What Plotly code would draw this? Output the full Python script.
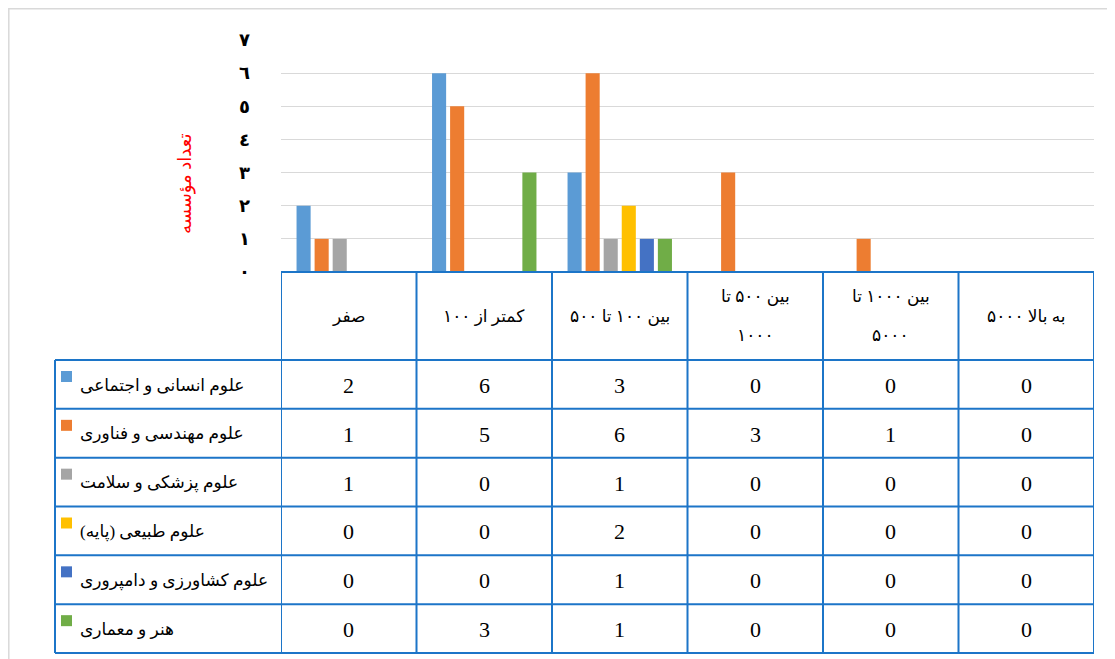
import plotly.graph_objects as go

# ---------------- data ----------------
categories = ["صفر", "کمتر از ۱۰۰", "بین ۱۰۰ تا ۵۰۰", "بین ۵۰۰ تا ۱۰۰۰", "بین ۱۰۰۰ تا ۵۰۰۰", "۵۰۰۰ به بالا"]
header_lines = [["صفر"], ["کمتر از ۱۰۰"], ["بین ۱۰۰ تا ۵۰۰"], ["بین ۵۰۰ تا", "۱۰۰۰"], ["بین ۱۰۰۰ تا", "۵۰۰۰"], ["۵۰۰۰ به بالا"]]

series_names = [
    "علوم انسانی و اجتماعی",
    "علوم مهندسی و فناوری",
    "علوم پزشکی و سلامت",
    "علوم طبیعی (پایه)",
    "علوم کشاورزی و دامپروری",
    "هنر و معماری",
]
humanities = [2, 6, 3, 0, 0, 0]
engineering = [1, 5, 6, 3, 1, 0]
medical = [1, 0, 1, 0, 0, 0]
natural = [0, 0, 2, 0, 0, 0]
agriculture = [0, 0, 1, 0, 0, 0]
art = [0, 3, 1, 0, 0, 0]
series_values = [humanities, engineering, medical, natural, agriculture, art]

y_tick_vals = [0, 1, 2, 3, 4, 5, 6, 7]
y_tick_text = ["٠", "١", "٢", "٣", "٤", "٥", "٦", "٧"]
y_title = "تعداد مؤسسه"

# ---------------- style ----------------
colors = ["#5B9BD5", "#ED7D31", "#A5A5A5", "#FFC000", "#4472C4", "#70AD47"]
BLUE = "#1C75C8"
RLM = "\u200f"
AR_FONT = "Times New Roman, Liberation Serif, DejaVu Sans"
NUM_FONT = "Times New Roman, Liberation Serif"

OFF = 8  # page body margin
PW, PH = 1115, 659
FW, FH = PW - OFF, PH - OFF
# plot area in page pixels
L, R, T, B = 281, 1094, 40, 272
W, H = R - L, B - T


def px(x):
    return (x - L) / W


def py(y):
    return (B - y) / H


fig = go.Figure()
for name, vals, col in zip(series_names, series_values, colors):
    fig.add_trace(go.Bar(x=categories, y=vals, name=name, marker=dict(color=col, line=dict(width=0))))

shapes = []
annotations = []

# outer chart border
shapes.append(dict(type="rect", xref="paper", yref="paper", x0=px(OFF + 0.8), x1=px(PW + 10), y0=py(OFF + 0.8),
                   y1=py(PH + 10), line=dict(color="#D9D9D9", width=1.5), fillcolor="rgba(0,0,0,0)", layer="below"))

# table geometry
header_top = B
header_bot = 360
row_h = (653 - 360) / 6
row_edges = [header_bot + i * row_h for i in range(7)]
legend_left = 55

# horizontal lines
shapes.append(dict(type="line", xref="paper", yref="paper", x0=px(L), x1=px(R), y0=py(header_top), y1=py(header_top),
                   line=dict(color=BLUE, width=2)))
for ye in row_edges:
    shapes.append(dict(type="line", xref="paper", yref="paper", x0=px(legend_left), x1=px(R), y0=py(ye), y1=py(ye),
                       line=dict(color=BLUE, width=2)))
# vertical lines
shapes.append(dict(type="line", xref="paper", yref="paper", x0=px(legend_left), x1=px(legend_left),
                   y0=py(header_bot), y1=py(row_edges[-1]), line=dict(color=BLUE, width=2)))
for i in range(len(categories) + 1):
    shapes.append(dict(type="line", xref="x", yref="paper", x0=i - 0.5, x1=i - 0.5,
                       y0=py(header_top), y1=py(row_edges[-1]), line=dict(color=BLUE, width=2)))

# header labels
for cat, lines in zip(categories, header_lines):
    ys = [316] if len(lines) == 1 else [296, 335]
    for txt, yy in zip(lines, ys):
        annotations.append(dict(x=cat, xref="x", y=py(yy), yref="paper", text=txt, showarrow=False,
                                xanchor="center", yanchor="middle",
                                font=dict(family=AR_FONT, size=17, color="black")))

# data rows
for r, (name, vals, col) in enumerate(zip(series_names, series_values, colors)):
    top = row_edges[r]
    cy = top + row_h / 2 + 1
    shapes.append(dict(type="rect", xref="paper", yref="paper", x0=px(61), x1=px(72), y0=py(top + 11),
                       y1=py(top + 22), fillcolor=col, line=dict(width=0)))
    annotations.append(dict(x=px(78), xref="paper", y=py(cy), yref="paper", text=name + RLM, showarrow=False,
                            xanchor="left", yanchor="middle",
                            font=dict(family=AR_FONT, size=17, color="black")))
    for cat, v in zip(categories, vals):
        annotations.append(dict(x=cat, xref="x", y=py(cy), yref="paper", text=str(v), showarrow=False,
                                xanchor="center", yanchor="middle",
                                font=dict(family=NUM_FONT, size=22, color="black")))

# y-axis title
annotations.append(dict(x=px(185), xref="paper", y=py(184), yref="paper", text=y_title, showarrow=False,
                        textangle=-90, xanchor="center", yanchor="middle",
                        font=dict(family=AR_FONT, size=18, color="red")))

fig.update_layout(
    width=FW, height=FH,
    margin=dict(l=L - OFF, r=PW - R, t=T - OFF, b=PH - B),
    paper_bgcolor="white", plot_bgcolor="white",
    barmode="group", bargap=0.2, bargroupgap=0.22,
    showlegend=False,
    shapes=shapes, annotations=annotations,
    xaxis=dict(type="category", range=[-0.5, len(categories) - 0.5], showticklabels=False, showgrid=False,
               zeroline=False, showline=False, ticks=""),
    yaxis=dict(range=[0, 7], tickvals=y_tick_vals, ticktext=y_tick_text, showgrid=True, gridcolor="#D9D9D9",
               gridwidth=1.3, zeroline=False, showline=False, ticks="", ticklabelstandoff=30,
               tickfont=dict(family="DejaVu Sans", size=18, color="black", weight="bold")),
)

fig.write_html("out.html")
